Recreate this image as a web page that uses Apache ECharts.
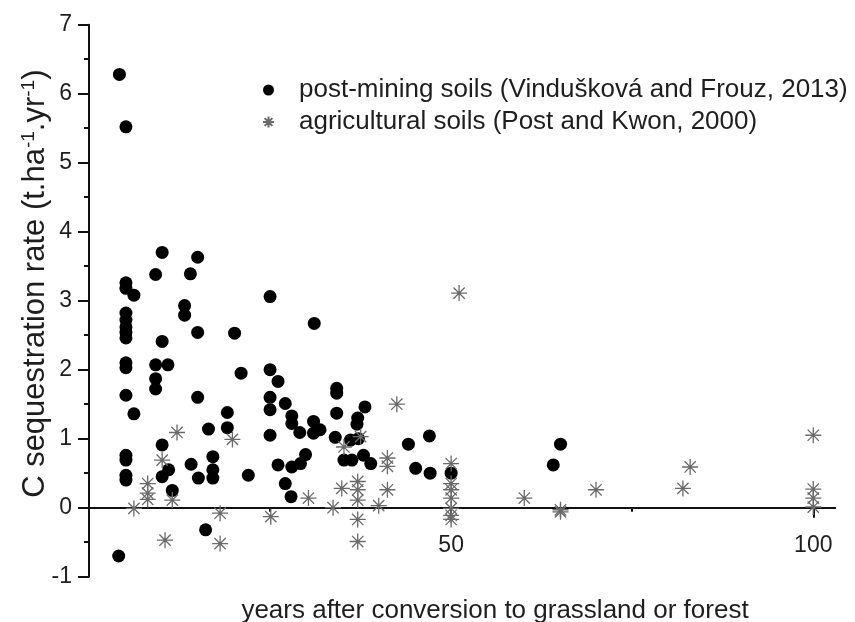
<!DOCTYPE html>
<html>
<head>
<meta charset="utf-8">
<script src="https://cdn.jsdelivr.net/npm/echarts@6/dist/echarts.min.js"></script>
<style>
  html, body { margin: 0; padding: 0; background: #fff; }
  #chart { width: 855px; height: 622px; }
</style>
</head>
<body>
<div id="chart"></div>
<script>
// Post-mining soils: years since reclamation and C sequestration rate (t/ha/yr)
const postMiningYears = [
  4.2, 5.1, 5.1, 5.1, 6.2, 5.1, 5.1, 5.1, 5.1, 5.1, 5.1, 5.1, 5.1, 6.2, 5.1, 5.1, 5.1, 5.1, 4.1,
  10.1, 9.2, 10.1, 9.2, 10.9, 9.2, 9.2, 10.1, 10.1, 11.0, 11.5,
  15.0, 14.0, 13.2, 13.2, 15.0, 15.0, 16.5, 14.1, 15.1, 17.1, 17.1, 17.1, 16.1,
  20.1, 21.0, 19.1, 19.1, 22.0,
  25.0, 25.0, 26.1, 25.0, 25.0, 27.1, 25.0, 28.0, 28.0, 29.1, 26.1, 28.0, 29.2, 29.9, 27.1, 27.9,
  31.1, 31.0, 31.0, 31.9, 34.2, 34.2, 34.2, 38.1, 37.1, 37.0, 34.0, 36.1, 37.2, 35.2, 36.3, 37.9, 38.9,
  44.1, 45.1, 47.0, 47.1, 50.0, 64.1, 65.1
];
const postMiningRates = [
  6.28, 5.52, 3.26, 3.18, 3.08, 2.82, 2.72, 2.62, 2.54, 2.46, 2.10, 2.03, 1.63, 1.36, 0.76, 0.69, 0.47, 0.40, -0.70,
  3.70, 3.38, 2.41, 2.07, 2.07, 1.87, 1.72, 0.91, 0.45, 0.55, 0.25,
  3.63, 3.39, 2.93, 2.79, 2.54, 1.60, 1.14, 0.63, 0.43, 0.74, 0.55, 0.43, -0.32,
  2.53, 1.95, 1.38, 1.16, 0.47,
  3.06, 2.00, 1.83, 1.60, 1.42, 1.51, 1.05, 1.33, 1.22, 1.09, 0.62, 0.59, 0.64, 0.77, 0.35, 0.16,
  2.67, 1.25, 1.08, 1.13, 1.73, 1.66, 1.37, 1.46, 1.30, 1.21, 1.02, 0.98, 1.00, 0.69, 0.69, 0.76, 0.64,
  0.92, 0.57, 1.04, 0.50, 0.50, 0.62, 0.92
];

// Agricultural soils: years since conversion and C sequestration rate (t/ha/yr)
const agriYears = [
  12.15, 10.1, 8.1, 8.1, 8.1, 6.2, 11.5, 10.5, 18.1, 18.1, 19.8, 25.1, 30.3,
  51.1, 42.5, 37.5, 35.2, 41.2, 41.2, 34.9, 37.1, 37.1, 37.1, 41.2, 33.7, 40.0, 37.1, 37.1,
  50.0, 50.0, 50.0, 50.0, 50.0, 50.0, 50.0,
  60.1, 65.1, 65.1, 70.0, 82.0, 83.0, 100, 100, 100, 100
];
const agriRates = [
  1.09, 0.69, 0.35, 0.21, 0.12, -0.01, 0.11, -0.47, -0.08, -0.52, 0.99, -0.13, 0.14,
  3.11, 1.50, 1.03, 0.88, 0.72, 0.60, 0.28, 0.38, 0.26, 0.11, 0.26, 0.00, 0.03, -0.17, -0.49,
  0.64, 0.35, 0.26, 0.14, -0.01, -0.11, -0.17,
  0.14, -0.03, -0.06, 0.26, 0.28, 0.59, 1.05, 0.27, 0.14, 0.01
];

const seriesNames = [
  'post-mining soils (Vindušková and Frouz, 2013)',
  'agricultural soils (Post and Kwon, 2000)'
];

const yTicks = { min: -1, max: 7, step: 1 };
const xTicks = { min: 0, max: 103, major: [50, 100], minor: [25, 75] };

const FONT = '"Liberation Sans", Arial, sans-serif';
const TEXT = '#1e1e1e';

// eight-armed asterisk with a small dark core
const ASTERISK = 'path://M0,-10L0,10M-10,0L10,0M-7.07,-7.07L7.07,7.07M-7.07,7.07L7.07,-7.07' +
  'M-1.3,-1.3L1.3,-1.3L1.3,1.3L-1.3,1.3Z';

const zip = (xs, ys) => xs.map((x, i) => [x, ys[i]]);

const chart = echarts.init(document.getElementById('chart'), null, { renderer: 'canvas' });

const axisLineStyle = { color: '#111', width: 2 };

chart.setOption({
  backgroundColor: '#ffffff',
  animation: false,
  textStyle: { fontFamily: FONT, color: TEXT },
  grid: { left: 89, right: 20, top: 24.7, bottom: 45.3, containLabel: false, outerBoundsMode: 'none' },
  legend: {
    orient: 'vertical',
    left: 257,
    top: 72,
    itemWidth: 11,
    itemHeight: 11,
    itemGap: 6,
    textStyle: { fontFamily: FONT, fontSize: 26, color: TEXT, lineHeight: 26, padding: [0, 0, 0, 20] },
    data: seriesNames
  },
  xAxis: [
    {
      type: 'value',
      min: xTicks.min,
      max: xTicks.max,
      axisLine: { show: true, onZero: true, onZeroAxisIndex: 0, lineStyle: axisLineStyle },
      axisTick: { show: true, inside: false, length: 10, customValues: xTicks.major, lineStyle: axisLineStyle },
      // labels sit just under the zero line
      axisLabel: { show: true, customValues: xTicks.major, fontSize: 23, color: TEXT, fontFamily: FONT, margin: -43 },
      splitLine: { show: false },
      name: 'years after conversion to grassland or forest',
      nameLocation: 'middle',
      nameGap: 21,
      nameMoveOverlap: false,
      nameTextStyle: { fontSize: 26, color: TEXT, fontFamily: FONT, padding: [0, 0, 0, 66] }
    },
    {
      type: 'value',
      min: xTicks.min,
      max: xTicks.max,
      position: 'bottom',
      axisLine: { show: true, onZero: true, onZeroAxisIndex: 0, lineStyle: axisLineStyle },
      axisTick: { show: true, length: 4, customValues: xTicks.minor, lineStyle: axisLineStyle },
      axisLabel: { show: false },
      splitLine: { show: false }
    }
  ],
  yAxis: {
    type: 'value',
    min: yTicks.min,
    max: yTicks.max,
    interval: yTicks.step,
    axisLine: { show: true, onZero: false, lineStyle: axisLineStyle },
    axisTick: { show: true, length: 11, lineStyle: axisLineStyle },
    minorTick: { show: true, splitNumber: 2, length: 5, lineStyle: axisLineStyle },
    axisLabel: { fontSize: 23, color: TEXT, fontFamily: FONT, margin: 17 },
    splitLine: { show: false },
    minorSplitLine: { show: false },
    name: 'C sequestration rate (t.ha{sup|-1}.yr{sup|-1})',
    nameLocation: 'middle',
    nameGap: 38,
    nameMoveOverlap: false,
    nameTextStyle: {
      fontSize: 31, color: TEXT, fontFamily: FONT, padding: [0, 0, 0, 34],
      rich: { sup: { fontSize: 19, color: TEXT, fontFamily: FONT, verticalAlign: 'top', padding: [0, 0, 13, 0] } }
    }
  },
  series: [
    {
      name: seriesNames[0],
      type: 'scatter',
      xAxisIndex: 0,
      symbol: 'circle',
      symbolSize: 13,
      itemStyle: { color: '#000', opacity: 1 },
      data: zip(postMiningYears, postMiningRates),
      z: 3
    },
    {
      name: seriesNames[1],
      type: 'scatter',
      xAxisIndex: 0,
      symbol: ASTERISK,
      symbolSize: 16,
      itemStyle: { color: '#222', borderColor: '#6a6a6a', borderWidth: 1.3, opacity: 1 },
      data: zip(agriYears, agriRates),
      z: 4
    }
  ]
});
</script>
</body>
</html>
